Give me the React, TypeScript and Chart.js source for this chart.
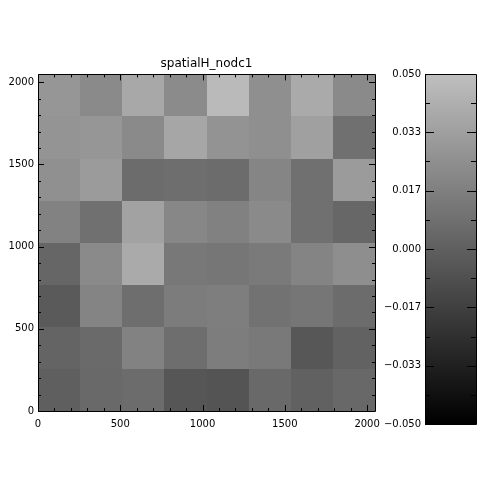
import React, { useEffect, useRef } from "react";
import { Chart, registerables } from "chart.js";

Chart.register(...registerables);

const FONT = "'DejaVu Sans', sans-serif";
const TITLE = "spatialH_nodc1";

// Cell lower-left corners (8 x 8 grid, 256 units per cell)
const xStarts = [0, 256, 512, 768, 1024, 1280, 1536, 1792];
const yStarts = [0, 256, 512, 768, 1024, 1280, 1536, 1792];
const CELL = 256;
const AXIS_MAX = 2048;

// Values by row, bottom row first
const row0 = [-0.0003, 0.005, 0.0065, -0.005, -0.006, 0.005, 0.0008, 0.0045];
const row1 = [0.0024, 0.0055, 0.0181, 0.0076, 0.0154, 0.0134, -0.0045, 0.0013];
const row2 = [-0.0029, 0.0191, 0.0076, 0.0149, 0.016, 0.0097, 0.0118, 0.0065];
const row3 = [0.0034, 0.0223, 0.039, 0.0128, 0.0118, 0.0139, 0.0191, 0.0243];
const row4 = [0.0181, 0.0086, 0.0348, 0.0207, 0.0175, 0.0223, 0.0086, 0.0039];
const row5 = [0.0254, 0.0312, 0.0065, 0.0076, 0.0065, 0.0196, 0.0086, 0.0312];
const row6 = [0.0275, 0.0285, 0.0223, 0.0369, 0.027, 0.0249, 0.0338, 0.0086];
const row7 = [0.0285, 0.0223, 0.038, 0.0228, 0.0474, 0.0249, 0.039, 0.0223];
const rows = [row0, row1, row2, row3, row4, row5, row6, row7];

const xTickValues = [0, 500, 1000, 1500, 2000];
const yTickValues = [0, 500, 1000, 1500, 2000];
const cbTickValues = [-0.05, -0.0333, -0.0167, 0, 0.0167, 0.0333, 0.05];
const VMIN = -0.05;
const VMAX = 0.05;
const GRAY_TOP = 191;

function grayFor(v: number) {
  const t = Math.max(0, Math.min(1, (v - VMIN) / (VMAX - VMIN)));
  const g = Math.round(t * GRAY_TOP);
  return `rgb(${g},${g},${g})`;
}

function fmtCb(v: number) {
  const s = v.toFixed(3);
  return s.startsWith("-") ? "\u2212" + s.slice(1) : s;
}

const heatPlugin = {
  id: "heatCells",
  beforeDatasetsDraw(chart: any) {
    const { ctx, chartArea, scales } = chart;
    const xs = scales.x;
    const ys = scales.y;
    ctx.save();
    ctx.beginPath();
    ctx.rect(chartArea.left, chartArea.top, chartArea.right - chartArea.left, chartArea.bottom - chartArea.top);
    ctx.clip();
    const data = chart.data.datasets[0].data as any[];
    data.forEach((d) => {
      const x0 = Math.round(xs.getPixelForValue(d.x - CELL / 2));
      const x1 = Math.round(xs.getPixelForValue(d.x + CELL / 2));
      const y0 = Math.round(ys.getPixelForValue(d.y - CELL / 2));
      const y1 = Math.round(ys.getPixelForValue(d.y + CELL / 2));
      ctx.fillStyle = grayFor(d.v);
      ctx.fillRect(x0, y1, x1 - x0, y0 - y1);
    });
    ctx.restore();
  },
  afterDraw(chart: any) {
    const { ctx, chartArea, scales } = chart;
    const { left, right, top, bottom } = chartArea;
    ctx.save();
    ctx.strokeStyle = "#000";
    ctx.lineWidth = 1;
    ctx.beginPath();
    ctx.rect(Math.round(left) + 0.5, Math.round(top) + 0.5, Math.round(right - left), Math.round(bottom - top));
    ctx.stroke();
    ctx.beginPath();
    for (let v = 0; v <= AXIS_MAX; v += 100) {
      const len = v % 500 === 0 ? 6 : 3;
      const px = Math.round(scales.x.getPixelForValue(v)) + 0.5;
      ctx.moveTo(px, bottom);
      ctx.lineTo(px, bottom - len);
      ctx.moveTo(px, top);
      ctx.lineTo(px, top + len);
      const py = Math.round(scales.y.getPixelForValue(v)) + 0.5;
      ctx.moveTo(left, py);
      ctx.lineTo(left + len, py);
      ctx.moveTo(right, py);
      ctx.lineTo(right - len, py);
    }
    ctx.stroke();
    ctx.restore();
  },
};

const cbPlugin = {
  id: "colorbar",
  beforeDatasetsDraw(chart: any) {
    const { ctx, chartArea, scales } = chart;
    const yb = scales.y.getPixelForValue(VMIN);
    const yt = scales.y.getPixelForValue(VMAX);
    const grad = ctx.createLinearGradient(0, yb, 0, yt);
    grad.addColorStop(0, grayFor(VMIN));
    grad.addColorStop(1, grayFor(VMAX));
    ctx.save();
    ctx.fillStyle = grad;
    ctx.fillRect(chartArea.left, yt, chartArea.right - chartArea.left, yb - yt);
    ctx.restore();
  },
  afterDraw(chart: any) {
    const { ctx, chartArea, scales } = chart;
    const { left, right, top, bottom } = chartArea;
    ctx.save();
    ctx.strokeStyle = "#000";
    ctx.lineWidth = 1;
    ctx.beginPath();
    ctx.rect(Math.round(left) + 0.5, Math.round(top) + 0.5, Math.round(right - left), Math.round(bottom - top));
    ctx.stroke();
    ctx.beginPath();
    cbTickValues.forEach((v, i) => {
      const py = Math.round(scales.y.getPixelForValue(v)) + 0.5;
      ctx.moveTo(left, py);
      ctx.lineTo(left + 9, py);
      ctx.moveTo(right, py);
      ctx.lineTo(right - 9, py);
      if (i < cbTickValues.length - 1) {
        const mid = (v + cbTickValues[i + 1]) / 2;
        const pm = Math.round(scales.y.getPixelForValue(mid)) + 0.5;
        ctx.moveTo(left, pm);
        ctx.lineTo(left + 5, pm);
        ctx.moveTo(right, pm);
        ctx.lineTo(right - 5, pm);
      }
    });
    ctx.stroke();
    ctx.restore();
  },
};

export default function App() {
  const mainRef = useRef<HTMLCanvasElement | null>(null);
  const cbRef = useRef<HTMLCanvasElement | null>(null);

  useEffect(() => {
    const points: any[] = [];
    rows.forEach((row, j) => {
      row.forEach((v, i) => {
        points.push({ x: xStarts[i] + CELL / 2, y: yStarts[j] + CELL / 2, v });
      });
    });
    const tickFont = { family: FONT, size: 10 };
    const main = new Chart(mainRef.current as HTMLCanvasElement, {
      type: "scatter",
      data: { datasets: [{ data: points, pointRadius: 0, showLine: false }] },
      options: {
        animation: false,
        responsive: false,
        devicePixelRatio: 1,
        layout: { padding: { left: 0, right: 125, top: 0, bottom: 0 } },
        plugins: {
          legend: { display: false },
          tooltip: { enabled: false },
          title: {
            display: true,
            fullSize: false,
            text: TITLE,
            color: "#000",
            font: { family: FONT, size: 12, weight: "normal" },
            padding: { top: 57, bottom: 3 },
          },
        },
        scales: {
          x: {
            type: "linear",
            min: 0,
            max: AXIS_MAX,
            grid: { display: false, drawTicks: false },
            border: { display: false },
            ticks: {
              color: "#000",
              font: tickFont,
              padding: 7,
              autoSkip: false,
              maxRotation: 0,
              callback: (v: any) => String(v),
            },
            afterBuildTicks: (s: any) => {
              s.ticks = xTickValues.map((v) => ({ value: v }));
            },
            afterFit: (s: any) => {
              s.height = 89;
            },
          },
          y: {
            type: "linear",
            min: 0,
            max: AXIS_MAX,
            grid: { display: false, drawTicks: false },
            border: { display: false },
            ticks: {
              color: "#000",
              font: tickFont,
              padding: 4,
              autoSkip: false,
              callback: (v: any) => String(v),
            },
            afterBuildTicks: (s: any) => {
              s.ticks = yTickValues.map((v) => ({ value: v }));
            },
            afterFit: (s: any) => {
              s.width = 38;
            },
          },
        },
      } as any,
      plugins: [heatPlugin],
    });

    const cb = new Chart(cbRef.current as HTMLCanvasElement, {
      type: "scatter",
      data: { datasets: [{ data: [], pointRadius: 0 }] },
      options: {
        animation: false,
        responsive: false,
        devicePixelRatio: 1,
        layout: { padding: { left: 0, right: 24, top: 74, bottom: 76 } },
        plugins: { legend: { display: false }, tooltip: { enabled: false } },
        scales: {
          x: { display: false, min: 0, max: 1 },
          y: {
            type: "linear",
            min: VMIN,
            max: VMAX,
            grid: { display: false, drawTicks: false },
            border: { display: false },
            ticks: {
              color: "#000",
              font: tickFont,
              padding: 4,
              autoSkip: false,
              callback: (v: any) => fmtCb(Number(v)),
            },
            afterBuildTicks: (s: any) => {
              s.ticks = cbTickValues.map((v) => ({ value: v }));
            },
            afterFit: (s: any) => {
              s.width = 45;
            },
          },
        },
      } as any,
      plugins: [cbPlugin],
    });

    return () => {
      main.destroy();
      cb.destroy();
    };
  }, []);

  return (
    <div style={{ position: "absolute", left: 0, top: 0, width: 500, height: 500, background: "#fff" }}>
      <canvas ref={mainRef} width={500} height={500} style={{ position: "absolute", left: 0, top: 0 }} />
      <canvas ref={cbRef} width={120} height={500} style={{ position: "absolute", left: 380, top: 0 }} />
    </div>
  );
}
